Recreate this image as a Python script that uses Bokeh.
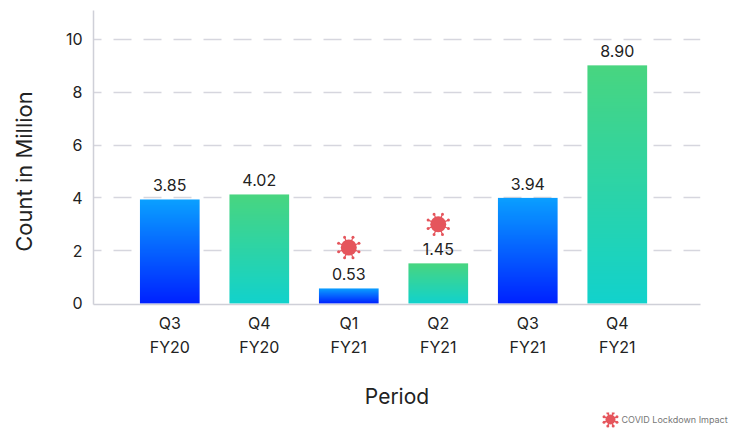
import math
import numpy as np
from bokeh.plotting import figure
from bokeh.layouts import column, row
from bokeh.models import FixedTicker
from bokeh.core.properties import value
from bokeh.embed import file_html
from bokeh.resources import INLINE

quarters = ["Q3\nFY20", "Q4\nFY20", "Q1\nFY21", "Q2\nFY21", "Q3\nFY21", "Q4\nFY21"]
labels = ["3.85", "4.02", "0.53", "1.45", "3.94", "8.90"]
bar_heights = [3.94, 4.13, 0.57, 1.52, 4.00, 9.02]
palette = ["blue", "green", "blue", "green", "blue", "green"]
covid_slots = [2, 3]
covid_levels = [2.12, 3.0]
y_ticks = [0, 2, 4, 6, 8, 10]
y_title = "Count in Million"
x_title = "Period"
legend_text = "COVID Lockdown Impact"
FONT = "Inter"
RED = "#e5555c"

GRADIENTS = {"blue": ((0, 34, 255), (10, 160, 255)), "green": ((18, 210, 204), (72, 213, 128))}
STEPS = 128
SIDE = 46

p = figure(width=732 - SIDE, height=412, output_backend="svg", toolbar_location=None,
           x_range=(-0.8525, 5.93), y_range=(-0.038, 11.098),
           min_border_left=93 - SIDE, min_border_right=32, min_border_top=10, min_border_bottom=108,
           outline_line_color=None, background_fill_color="white", border_fill_color="white",
           frame_align=False)

p.xgrid.visible = False
p.ygrid.ticker = FixedTicker(ticks=[t for t in y_ticks if t > 0])
p.ygrid.grid_line_color = "#d6d6de"
p.ygrid.grid_line_width = 1.5
p.ygrid.grid_line_dash = "18 12"
p.ygrid.grid_line_dash_offset = 10


def ramp(kind):
    c0, c1 = GRADIENTS[kind]
    img = np.zeros((STEPS, 1), dtype=np.uint32)
    view = img.view(dtype=np.uint8).reshape((STEPS, 1, 4))
    for s in range(STEPS):
        t = s / (STEPS - 1)
        view[s, 0] = [round(a + (b - a) * t) for a, b in zip(c0, c1)] + [255]
    return img


p.image_rgba(image=[ramp(k) for k in palette],
             x=[i - 1 / 3 for i in range(6)], y=[0] * 6,
             dw=[2 / 3] * 6, dh=bar_heights)

p.text(x=list(range(6)), y=bar_heights, text=labels, text_align="center", text_baseline="bottom",
       y_offset=-8, text_font=value(FONT), text_font_size="16px", text_color="#222222")


def virus(fig, cx, cy, ux, uy, body, spike):
    xs, ys = [], []
    for k in range(8):
        a = k * math.pi / 4 + math.pi / 8
        xs.append(cx + spike / ux * math.cos(a))
        ys.append(cy + spike / uy * math.sin(a))
    fig.segment(x0=[cx] * 8, y0=[cy] * 8, x1=xs, y1=ys, line_color=RED, line_width=1.2)
    fig.scatter(x=xs, y=ys, size=3, marker="circle", fill_color=RED, line_color=None)
    fig.scatter(x=[cx], y=[cy], size=body, marker="circle", fill_color=RED, line_color=None)


for s, l in zip(covid_slots, covid_levels):
    virus(p, s, l, 89.5, 26.4, 16, 11)

for ax in (p.xaxis[0], p.yaxis[0]):
    ax.axis_line_color = "#cfd0d8"
    ax.axis_line_width = 1.5
    ax.major_tick_line_color = None
    ax.minor_tick_line_color = None
    ax.major_label_text_font = FONT
    ax.major_label_text_font_size = "16px"
    ax.major_label_text_color = "#222222"

p.yaxis[0].ticker = FixedTicker(ticks=y_ticks)
p.xaxis[0].ticker = FixedTicker(ticks=list(range(6)))
p.xaxis[0].major_label_overrides = dict(enumerate(quarters))
p.xaxis[0].major_label_standoff = 2
p.xaxis[0].axis_label = x_title
p.xaxis[0].axis_label_standoff = 24
p.xaxis[0].axis_label_text_font = FONT
p.xaxis[0].axis_label_text_font_style = "normal"
p.xaxis[0].axis_label_text_font_size = "21px"
p.xaxis[0].axis_label_text_color = "#222222"


def blank(width, height):
    f = figure(width=width, height=height, output_backend="svg", toolbar_location=None,
               x_range=(0, width), y_range=(height, 0), x_axis_type=None, y_axis_type=None,
               min_border=0, outline_line_color=None, background_fill_color="white",
               border_fill_color="white", frame_align=False)
    f.xgrid.visible = False
    f.ygrid.visible = False
    return f


# Strip left of the plot for the y title; its ranges run in page pixels
side = blank(SIDE, 412)
side.text(x=[23], y=[171], text=[y_title], angle=math.pi / 2, text_align="center", text_baseline="middle",
          text_font=value(FONT), text_font_size="22px", text_color="#222222")

# Key row underneath the plot; its ranges run in page pixels
key = blank(732, 18)
virus(key, 610, 7, 1, 1, 10, 7)
key.text(x=[621], y=[7], text=[legend_text], text_align="left", text_baseline="middle",
         text_font=value(FONT), text_font_size="9px", text_color="#777777")

page = column(row(side, p, spacing=0), key, spacing=0)
open("out.html", "w").write(file_html(page, INLINE))
